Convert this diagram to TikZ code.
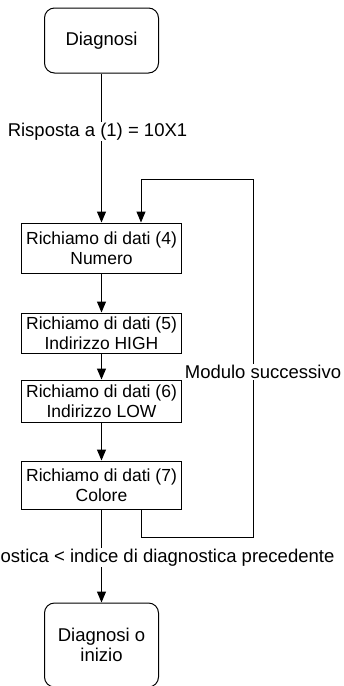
\documentclass[tikz,border=0pt]{standalone}
\usepackage{fontspec}
\setmainfont{Liberation Sans}
\usetikzlibrary{arrows.meta, positioning}

\begin{document}
\begin{tikzpicture} [x=1pt, y=1pt, on grid, line width=1pt,
  every node/.style={font=\fontsize{18.5}{20.5}\selectfont},
  term/.style={rectangle, rounded corners=10pt, draw, align=center, minimum width=114pt},
  call/.style={rectangle, draw, align=center, minimum width=160pt, inner sep=1pt,
    font=\fontsize{17.5}{20.5}\selectfont},
  lbl/.style={fill=white, inner sep=1pt}]
\useasboundingbox (0,0) rectangle (344,-686);

\node (diag) [term, minimum height=65pt] at (101.5,-40.5) {Diagnosi};
\node (num) [call, minimum height=50pt, below=207.5pt of diag] {Richiamo di dati (4)\\Numero};
\node (high) [call, minimum height=40pt, below=85pt of num] {Richiamo di dati (5)\\Indirizzo HIGH};
\node (low) [call, minimum height=42pt, below=68pt of high] {Richiamo di dati (6)\\Indirizzo LOW};
\node (col) [call, minimum height=48pt, below=84pt of low] {Richiamo di dati (7)\\Colore};
\node (fine) [term, minimum height=84pt, below=160pt of col] {Diagnosi o\\inizio};

% return path of the loop
\coordinate (rb) at (253,-537.7);
\coordinate (rt) at (253,-179);

\path [-{Triangle[length=11pt,width=9pt]}]
    (diag) edge node [lbl, pos=0.39, xshift=-4pt] {Risposta a (1) = 10X1} (num)
    (num) edge (high)
    (high) edge (low)
    (low) edge (col)
    (col) edge node [lbl, pos=0.52, xshift=66pt] {ostica < indice di diagnostica precedente} (fine);

\draw [-{Triangle[length=11pt,width=9pt]}]
    ([xshift=39.5pt]col.south) |- (rb)
    -- node [lbl, pos=0.462, xshift=10pt] {Modulo successivo} (rt)
    -| ([xshift=39.5pt]num.north);
\end{tikzpicture}
\end{document}
